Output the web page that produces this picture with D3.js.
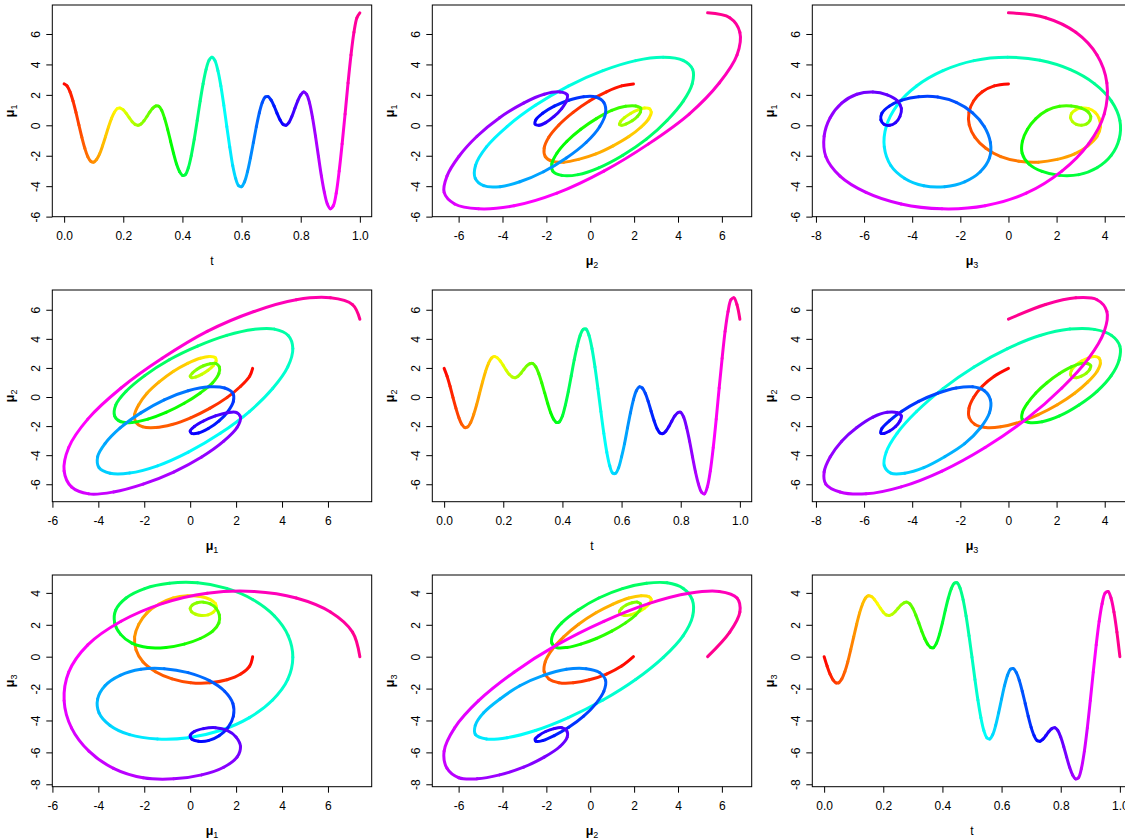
<!DOCTYPE html>
<html><head><meta charset="utf-8">
<script src="https://cdn.jsdelivr.net/npm/d3@7"></script>
<style>
body{margin:0;background:#fff}
svg{display:block}
text{font-family:"Liberation Sans",Arial,Helvetica,sans-serif;fill:#000}
</style>
</head><body>
<svg id="chart" width="1125" height="839"></svg>
<script>
// ---------------- data ----------------
const tValues = [0.00,0.01,0.02,0.03,0.04,0.05,0.06,0.07,0.08,0.09,
0.10,0.11,0.12,0.13,0.14,0.15,0.16,0.17,0.18,0.19,
0.20,0.21,0.22,0.23,0.24,0.25,0.26,0.27,0.28,0.29,
0.30,0.31,0.32,0.33,0.34,0.35,0.36,0.37,0.38,0.39,
0.40,0.41,0.42,0.43,0.44,0.45,0.46,0.47,0.48,0.49,
0.50,0.51,0.52,0.53,0.54,0.55,0.56,0.57,0.58,0.59,
0.60,0.61,0.62,0.63,0.64,0.65,0.66,0.67,0.68,0.69,
0.70,0.71,0.72,0.73,0.74,0.75,0.76,0.77,0.78,0.79,
0.80,0.81,0.82,0.83,0.84,0.85,0.86,0.87,0.88,0.89,
0.90,0.91,0.92,0.93,0.94,0.95,0.96,0.97,0.98,0.99,1.00];

const mu1 = [2.72,2.59,2.20,1.60,0.85,0.02,-0.79,-1.51,-2.06,-2.36,
-2.42,-2.24,-1.88,-1.35,-0.74,-0.11,0.44,0.86,1.10,1.13,
1.01,0.78,0.50,0.24,0.06,0.00,0.09,0.30,0.58,0.88,
1.13,1.27,1.25,0.98,0.44,-0.26,-1.05,-1.84,-2.54,-3.03,
-3.29,-3.24,-2.79,-1.98,-0.91,0.32,1.59,2.74,3.67,4.27,
4.47,4.25,3.59,2.58,1.31,-0.08,-1.42,-2.64,-3.49,-3.97,
-4.03,-3.71,-3.05,-2.15,-1.13,-0.09,0.82,1.50,1.86,1.88,
1.65,1.26,0.79,0.36,0.07,0.00,0.18,0.58,1.10,1.61,
2.00,2.19,2.04,1.46,0.50,-0.72,-2.05,-3.34,-4.41,-5.17,
-5.49,-5.29,-4.46,-3.01,-1.22,0.74,2.78,4.62,6.11,7.07,
7.39];

const mu2 = [1.97,1.43,0.74,-0.04,-0.78,-1.43,-1.89,-2.10,-2.05,-1.74,
-1.21,-0.53,0.26,1.04,1.76,2.32,2.67,2.78,2.69,2.47,
2.17,1.84,1.56,1.38,1.33,1.43,1.64,1.91,2.15,2.29,
2.30,2.07,1.61,0.98,0.28,-0.43,-1.06,-1.52,-1.75,-1.70,
-1.30,-0.55,0.39,1.47,2.56,3.50,4.24,4.65,4.67,4.23,
3.33,2.07,0.58,-1.00,-2.50,-3.79,-4.73,-5.23,-5.24,-4.86,
-4.11,-3.21,-2.13,-1.09,-0.19,0.43,0.70,0.62,0.26,-0.30,
-0.98,-1.64,-2.17,-2.48,-2.51,-2.34,-2.03,-1.65,-1.30,-1.08,
-1.05,-1.38,-2.10,-3.04,-4.13,-5.16,-5.99,-6.53,-6.66,-6.18,
-5.09,-3.47,-1.52,0.62,2.66,4.51,5.88,6.69,6.82,6.36,
5.35];

const mu3 = [0.00,-0.59,-1.09,-1.45,-1.64,-1.63,-1.39,-0.94,-0.32,0.44,
1.24,2.03,2.75,3.30,3.68,3.82,3.77,3.59,3.33,3.04,
2.79,2.62,2.58,2.66,2.82,3.03,3.24,3.38,3.42,3.31,
3.03,2.61,2.12,1.60,1.14,0.79,0.58,0.57,0.85,1.40,
2.12,2.93,3.68,4.27,4.60,4.63,4.28,3.57,2.55,1.31,
-0.04,-1.43,-2.72,-3.82,-4.63,-5.08,-5.16,-4.89,-4.31,-3.52,
-2.65,-1.82,-1.17,-0.79,-0.75,-1.00,-1.49,-2.17,-2.94,-3.73,
-4.43,-4.95,-5.26,-5.30,-5.17,-4.94,-4.69,-4.51,-4.45,-4.62,
-5.04,-5.63,-6.30,-6.93,-7.41,-7.66,-7.59,-7.00,-5.92,-4.46,
-2.76,-0.97,0.74,2.22,3.33,3.98,4.09,3.68,2.80,1.54,
0.00];

const ticksT   = [0, 0.2, 0.4, 0.6, 0.8, 1.0];
const ticksMu1 = [-6, -4, -2, 0, 2, 4, 6];
const ticksMu2 = [-6, -4, -2, 0, 2, 4, 6];
const ticksMu3 = [-8, -6, -4, -2, 0, 2, 4];

// ---------------- layout ----------------
const svg = d3.select("#chart");
const colPitch = 380, rowPitch = 285;
const boxL = 52.3, boxT = 5, boxW = 319.4, boxH = 211.7;

const vars = [
  {name: "t",  sub: null, vals: tValues, ticks: ticksT, fmt: d3.format(".1f")},
  {name: "μ", sub: "1",  vals: mu1, ticks: ticksMu1, fmt: d3.format("d")},
  {name: "μ", sub: "2",  vals: mu2, ticks: ticksMu2, fmt: d3.format("d")},
  {name: "μ", sub: "3",  vals: mu3, ticks: ticksMu3, fmt: d3.format("d")}
];

function ext(vals) {
  const [a, b] = d3.extent(vals);
  const r = b - a;
  return [a - 0.04 * r, b + 0.04 * r];
}
function fmtMinus(s) { return s.replace("−", "-"); }

function hueColor(t) {
  return d3.hsl(328 * t, 1, 0.5).toString();
}

function labelText(sel, v) {
  sel.text(null);
  const main = sel.append("tspan").text(v.name);
  if (v.sub) {
    main.attr("font-weight", "bold").attr("font-size", 12.5);
    sel.append("tspan").attr("font-size", 9).attr("dy", 3).text(v.sub);
  }
}

function drawColoredCurve(g, xs, ys, xScale, yScale) {
  const pts = xs.map((x, i) => [xScale(x), yScale(ys[i]), tValues[i]]);
  const segs = [];
  let cur = null;
  const ctx = {
    moveTo(x, y) { cur = [x, y]; },
    lineTo(x, y) { segs.push(`M${cur[0]},${cur[1]}L${x},${y}`); cur = [x, y]; },
    bezierCurveTo(a, b, c, d, x, y) { segs.push(`M${cur[0]},${cur[1]}C${a},${b},${c},${d},${x},${y}`); cur = [x, y]; },
    closePath() {}
  };
  d3.line().x(p => p[0]).y(p => p[1]).curve(d3.curveCatmullRom.alpha(0.5)).context(ctx)(pts);
  g.selectAll("path.seg").data(segs).join("path")
    .attr("class", "seg")
    .attr("d", d => d)
    .attr("fill", "none")
    .attr("stroke-width", 3)
    .attr("stroke-linecap", "round")
    .attr("stroke-linejoin", "round")
    .attr("stroke", (d, i) => hueColor((tValues[i] + tValues[i + 1]) / 2));
}

for (let i = 0; i < 3; i++) {
  for (let j = 0; j < 3; j++) {
    const x0 = boxL + colPitch * j, y0 = boxT + rowPitch * i;
    const xv = (i === j) ? vars[0] : vars[j + 1];
    const yv = vars[i + 1];
    const xScale = d3.scaleLinear().domain(ext(xv.vals)).range([x0, x0 + boxW]);
    const yScale = d3.scaleLinear().domain(ext(yv.vals)).range([y0 + boxH, y0]);
    const g = svg.append("g");

    drawColoredCurve(g.append("g"), xv.vals, yv.vals, xScale, yScale);

    // box
    g.append("rect").attr("x", x0).attr("y", y0).attr("width", boxW).attr("height", boxH)
      .attr("fill", "none").attr("stroke", "#000").attr("stroke-width", 1);

    // x axis
    const ax = g.append("g").attr("transform", `translate(0,${y0 + boxH})`)
      .call(d3.axisBottom(xScale).tickValues(xv.ticks).tickSize(6).tickSizeOuter(0)
        .tickFormat(d => fmtMinus(xv.fmt(d))));
    ax.select(".domain").remove();
    ax.selectAll(".tick line").attr("stroke", "#000");
    ax.selectAll(".tick text").attr("y", 23.3).attr("dy", null)
      .attr("font-size", 12).attr("font-family", null).attr("fill", "#000");

    // y axis
    const ay = g.append("g").attr("transform", `translate(${x0},0)`)
      .call(d3.axisLeft(yScale).tickValues(yv.ticks).tickSize(6).tickSizeOuter(0)
        .tickFormat(d => fmtMinus(yv.fmt(d))));
    ay.select(".domain").remove();
    ay.selectAll(".tick line").attr("stroke", "#000");
    ay.selectAll(".tick text").attr("x", null).attr("dy", null)
      .attr("transform", "translate(-12.3,0) rotate(-90)")
      .attr("text-anchor", "middle").attr("font-size", 12)
      .attr("font-family", null).attr("fill", "#000");

    // axis titles
    g.append("text").attr("x", x0 + boxW / 2).attr("y", y0 + boxH + 48.3)
      .attr("text-anchor", "middle").attr("font-size", 12).call(labelText, xv);
    g.append("text")
      .attr("transform", `translate(${x0 - 38.8},${y0 + boxH / 2}) rotate(-90)`)
      .attr("text-anchor", "middle").attr("font-size", 12).call(labelText, yv);
  }
}
</script>
</body></html>
